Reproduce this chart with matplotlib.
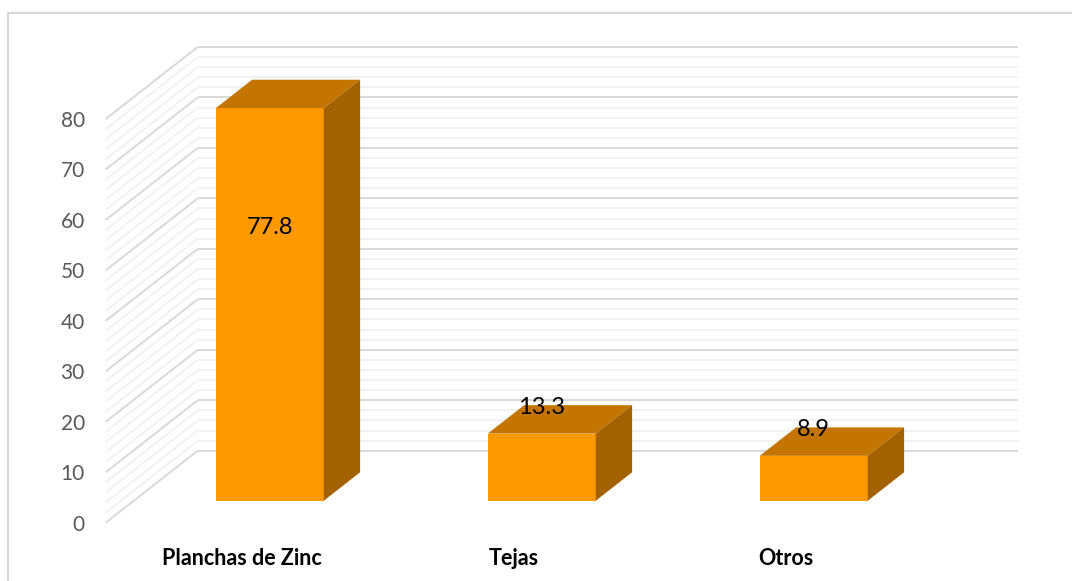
import matplotlib.pyplot as plt
from matplotlib.patches import Polygon
from matplotlib.lines import Line2D

# data
categories = ['Planchas de Zinc', 'Tejas', 'Otros']
values = [77.8, 13.3, 8.9]
y_ticks = [0, 10, 20, 30, 40, 50, 60, 70, 80]

plt.rcParams['font.family'] = ['Lato', 'DejaVu Sans']

W, H = 1072, 581
fig = plt.figure(figsize=(W / 100, H / 100), dpi=100)

# front plane of the 3d box, in pixels
left_px, right_px = 105.7, 921.7
bottom_px, top_px = 522.7, 119.0
ax = fig.add_axes([left_px / W, (H - bottom_px) / H,
                   (right_px - left_px) / W, (bottom_px - top_px) / H])
ax.set_xlim(-0.5, 2.5)
ax.set_ylim(0, 80)

px_x = (right_px - left_px) / 3.0
px_y = (bottom_px - top_px) / 80.0
# full depth of the box, converted to data units
ddx = 92 / px_x
ddy = 72 / px_y
wall_end = 2.5 + 4 / px_x

major_c = '#d9d9d9'
minor_c = '#f0f0f0'

# side wall and back wall gridlines
for v in range(0, 81, 2):
    major = v % 10 == 0
    c = major_c if major else minor_c
    lw = 1.4 if major else 1.2
    z = 2 if major else 1
    ax.plot([-0.5, -0.5 + ddx], [v, v + ddy], color=c, lw=lw,
            clip_on=False, zorder=z, solid_capstyle='butt')
    ax.plot([-0.5 + ddx, wall_end + ddx], [v + ddy, v + ddy], color=c, lw=lw,
            clip_on=False, zorder=z, solid_capstyle='butt')

# bars
bar_w = 108 / px_x
f1, f2 = 0.305, 0.70
front_c = '#FF9900'
top_c = '#C47500'
side_c = '#A36200'
for i, v in enumerate(values):
    x0 = i - bar_w / 2 + f1 * ddx
    x1 = i + bar_w / 2 + f1 * ddx
    b = f1 * ddy
    t = v + f1 * ddy
    dx = (f2 - f1) * ddx
    dy = (f2 - f1) * ddy
    front = Polygon([(x0, b), (x1, b), (x1, t), (x0, t)], closed=True,
                    fc=front_c, ec='none', clip_on=False, zorder=5)
    topf = Polygon([(x0, t), (x1, t), (x1 + dx, t + dy), (x0 + dx, t + dy)],
                   closed=True, fc=top_c, ec='none', clip_on=False, zorder=5)
    side = Polygon([(x1, b), (x1 + dx, b + dy), (x1 + dx, t + dy), (x1, t)],
                   closed=True, fc=side_c, ec='none', clip_on=False, zorder=5)
    for p in (front, topf, side):
        ax.add_patch(p)
    if v > 40:
        ly = b + 0.695 * v
    else:
        ly = t + 5.2
    ax.text((x0 + x1) / 2, ly, f'{v:.1f}', ha='center', va='center',
            fontsize=17, color='black', zorder=6)

# axes, ticks and labels
for s in ax.spines.values():
    s.set_visible(False)
ax.set_yticks(y_ticks)
ax.set_yticklabels([str(t) for t in y_ticks], fontsize=15, color='#595959')
ax.set_xticks(range(len(categories)))
ax.set_xticklabels(categories, fontsize=15.5, fontweight='bold', color='black')
ax.tick_params(axis='y', length=0, pad=15)
ax.tick_params(axis='x', length=0, pad=18)
ax.patch.set_visible(False)

# chart border (top and left visible)
fig.add_artist(Line2D([7.5 / W, 7.5 / W], [0, (H - 13) / H], color='#d9d9d9',
                      lw=1.5, transform=fig.transFigure))
fig.add_artist(Line2D([7.5 / W, 1], [(H - 13) / H, (H - 13) / H], color='#d9d9d9',
                      lw=1.5, transform=fig.transFigure))

fig.savefig('out.png', dpi=100)
